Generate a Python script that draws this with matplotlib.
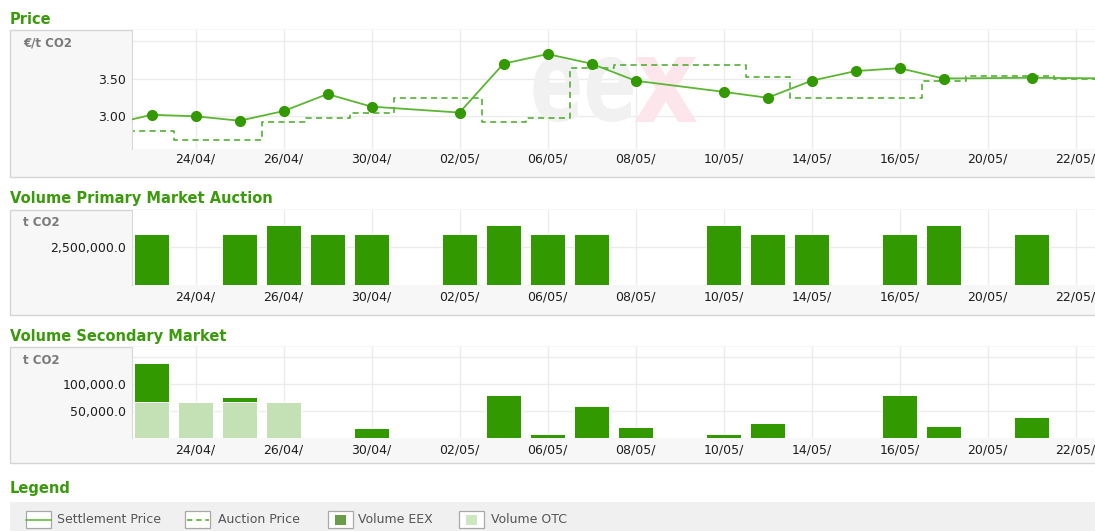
import matplotlib
matplotlib.use("Agg")
import matplotlib.pyplot as plt
import numpy as np
from matplotlib.patches import Rectangle, PathPatch
from matplotlib.lines import Line2D
from matplotlib.textpath import TextPath
from matplotlib.font_manager import FontProperties
from matplotlib.transforms import Affine2D

# trading days (one slot each, the first and last are only partly visible)
dates = ["22/04/", "23/04/", "24/04/", "25/04/", "26/04/", "29/04/", "30/04/",
         "01/05/", "02/05/", "03/05/", "06/05/", "07/05/", "08/05/", "09/05/",
         "10/05/", "13/05/", "14/05/", "15/05/", "16/05/", "17/05/", "20/05/",
         "21/05/", "22/05/", "23/05/"]
nan = np.nan
settlement_price = [2.87, 3.01, 2.99, 2.93, 3.06, 3.29, 3.12, nan, 3.04, 3.70,
                    3.83, 3.70, 3.47, nan, 3.32, 3.24, 3.47, 3.60, 3.64, 3.50,
                    nan, 3.51, nan, 3.50]
auction_price = [2.79, 2.79, 2.67, 2.67, 2.91, 2.96, 3.04, 3.24, 3.24, 2.91,
                 2.96, 3.64, 3.68, 3.68, 3.68, 3.52, 3.24, 3.24, 3.24, 3.47,
                 3.54, 3.54, 3.50, 3.50]
primary_volume = [0, 3380000, 0, 3380000, 3970000, 3380000, 3380000, 0,
                  3380000, 3970000, 3380000, 3380000, 0, 0, 3970000, 3380000,
                  3380000, 0, 3380000, 3970000, 0, 3380000, 0, 0]
volume_eex = [0, 71900, 0, 10000, 0, 0, 17500, 0, 0, 79400, 7500, 59400,
              20000, 0, 7500, 28000, 0, 0, 79400, 22000, 0, 38800, 0, 0]
volume_otc = [0, 65600, 65600, 65600, 65600, 0, 0, 0, 0, 0, 0, 0, 0, 0, 0, 0,
              0, 0, 0, 0, 0, 0, 0, 0]

W, H = 1095, 531
GREEN = "#339900"
LINE_GREEN = "#5cb533"
DASH_GREEN = "#44aa22"
LIGHT = "#c3e1b4"
TITLE_GREEN = "#3a9a0c"
FONT = "DejaVu Sans"

fig = plt.figure(figsize=(W / 100, H / 100), dpi=100)


def rect(x0, y0, x1, y1):
    # pixel box (top-left origin) -> figure fraction rect
    return [x0 / W, 1 - y1 / H, (x1 - x0) / W, (y1 - y0) / H]


def box(x0, y0, x1, y1, zorder=-2, **kw):
    r = rect(x0, y0, x1, y1)
    fig.add_artist(Rectangle((r[0], r[1]), r[2], r[3], transform=fig.transFigure,
                             zorder=zorder, **kw))


def title(text, y):
    fig.text(10 / W, 1 - y / H, text, fontsize=10.5, fontweight="bold",
             color=TITLE_GREEN, family=FONT, va="baseline")


def unit(text, y):
    fig.text(23 / W, 1 - y / H, text, fontsize=8.5, fontweight="bold",
             color="#7a7a7a", family=FONT, va="center")


x = np.arange(len(dates))
x_left = (132 - 107.5) / 44
x_right = len(dates) - 0.5
plot_right = 107.5 + 44 * x_right
ticks = x[2:23:2]
tick_labels = [dates[i] for i in ticks]


def panel(y0, y1, ylim, yticks, ylabels, pad):
    ax = fig.add_axes(rect(132, y0, plot_right, y1))
    ax.set_xlim(x_left, x_right)
    ax.set_ylim(*ylim)
    ax.set_facecolor("white")
    for s in ["top", "right", "bottom"]:
        ax.spines[s].set_visible(False)
    ax.spines["left"].set_color("#d8d8d8")
    ax.set_xticks(ticks)
    ax.set_xticklabels(tick_labels)
    ax.set_yticks(yticks)
    ax.set_yticklabels(ylabels)
    ax.tick_params(length=0, labelsize=9, labelcolor="#1e1e1e")
    ax.tick_params(axis="x", pad=pad)
    ax.tick_params(axis="y", pad=4)
    ax.grid(True, color="#ececec", lw=1)
    ax.set_axisbelow(True)
    for t in ax.get_xticklabels() + ax.get_yticklabels():
        t.set_family(FONT)
    return ax


# ---- Price ----
title("Price", 23.5)
box(10, 30, 1110, 177, facecolor="#f7f7f7", edgecolor="#d4d4d4", lw=1)
ax1 = panel(30, 149, (2.548, 4.155), [3.0, 3.5, 4.0], ["3.00", "3.50", ""], 2.5)
unit("€/t CO2", 43)

# eex watermark, stretched to the logo's box
fp = FontProperties(family=FONT, weight="bold")
for word, x0, x1, col in [("ee", 530, 633, "#f1f1f1"), ("x", 633, 697, "#fce6eb")]:
    tp = TextPath((0, 0), word, prop=fp, size=1)
    v = tp.vertices
    bx0, by0 = v.min(axis=0)
    bx1, by1 = v.max(axis=0)
    tr = (Affine2D().translate(-bx0, -by0)
          .scale((x1 - x0) / W / (bx1 - bx0), (122 - 57) / H / (by1 - by0))
          .translate(x0 / W, 1 - 122 / H) + fig.transFigure)
    ax1.add_patch(PathPatch(tp, transform=tr, facecolor=col, edgecolor="none", zorder=0.8))

ok = ~np.isnan(settlement_price)
ax1.plot(x, auction_price, drawstyle="steps-mid", color=DASH_GREEN, lw=1.1,
         linestyle=(0, (4, 2.8)), zorder=2)
ax1.plot(x[ok], np.array(settlement_price)[ok], color=LINE_GREEN, lw=1.3,
         marker="o", ms=7, markerfacecolor=GREEN, markeredgecolor=GREEN, zorder=3)

# ---- Volume Primary Market Auction ----
title("Volume Primary Market Auction", 203.5)
box(10, 210, 1110, 315, facecolor="#f7f7f7", edgecolor="#d4d4d4", lw=1)
ax2 = panel(210, 285, (0, 4934000), [2500000], ["2,500,000.0"], 4)
unit("t CO2", 223)
pv = np.array(primary_volume)
ax2.bar(x[pv > 0], pv[pv > 0], width=0.78, color=GREEN, edgecolor="white", lw=0.7)

# ---- Volume Secondary Market ----
title("Volume Secondary Market", 340.5)
box(10, 347, 1110, 463, facecolor="#f7f7f7", edgecolor="#d4d4d4", lw=1)
ax3 = panel(347, 437.7, (0, 168000), [50000, 100000, 150000],
            ["50,000.0", "100,000.0", ""], 4)
unit("t CO2", 361)
otc = np.array(volume_otc)
eex = np.array(volume_eex)
ax3.bar(x[otc > 0], otc[otc > 0], width=0.78, color=LIGHT, edgecolor="white", lw=0.7)
ax3.bar(x[eex > 0], eex[eex > 0], bottom=otc[eex > 0], width=0.78, color=GREEN,
        edgecolor="white", lw=0.7)

# ---- Legend ----
title("Legend", 492.5)
box(10, 501.5, 1110, 540, facecolor="#f0f0f0", edgecolor="none")
items = [("Settlement Price", 26, 57), ("Auction Price", 185, 218),
         ("Volume EEX", 328, 358), ("Volume OTC", 459, 491)]
ymid = 1 - 519.5 / H
for n, (label, sx0, tx0) in enumerate(items):
    box(sx0, 511, sx0 + 25, 528, zorder=1, facecolor="white", edgecolor="#a8a8a8", lw=0.9)
    if n == 0:
        fig.add_artist(Line2D([sx0 / W, (sx0 + 25) / W], [ymid, ymid], zorder=2,
                              transform=fig.transFigure, color=LINE_GREEN, lw=1.1))
    elif n == 1:
        fig.add_artist(Line2D([(sx0 + 2) / W, (sx0 + 24) / W], [ymid, ymid], zorder=2,
                              transform=fig.transFigure, color=DASH_GREEN, lw=1.1,
                              linestyle=(0, (3.5, 2.5))))
    else:
        col = "#6a9d48" if n == 2 else "#cde8c0"
        box(sx0 + 7, 514.5, sx0 + 18, 524.5, zorder=2, facecolor=col, edgecolor="none")
    fig.text(tx0 / W, ymid, label, fontsize=9, color="#555555", family=FONT,
             va="center")

fig.savefig("out.png", dpi=100)
